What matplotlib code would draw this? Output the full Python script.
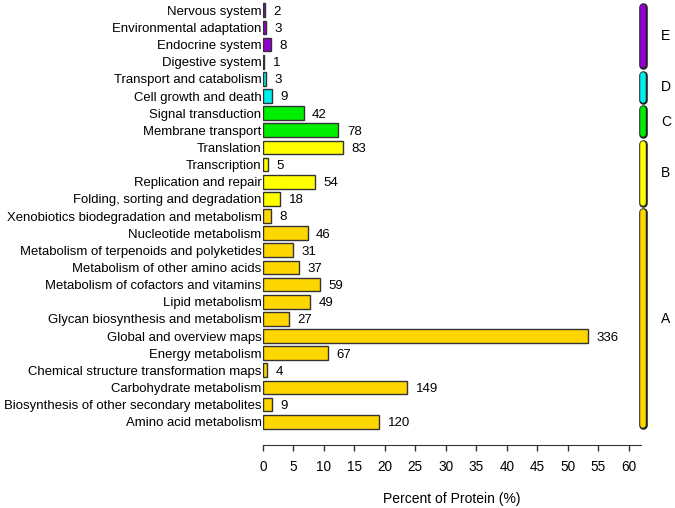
import matplotlib.pyplot as plt

plt.rcParams['font.family'] = ['Liberation Sans', 'DejaVu Sans']

# categories from bottom to top
categories = [
    "Amino acid metabolism",
    "Biosynthesis of other secondary metabolites",
    "Carbohydrate metabolism",
    "Chemical structure transformation maps",
    "Energy metabolism",
    "Global and overview maps",
    "Glycan biosynthesis and metabolism",
    "Lipid metabolism",
    "Metabolism of cofactors and vitamins",
    "Metabolism of other amino acids",
    "Metabolism of terpenoids and polyketides",
    "Nucleotide metabolism",
    "Xenobiotics biodegradation and metabolism",
    "Folding, sorting and degradation",
    "Replication and repair",
    "Transcription",
    "Translation",
    "Membrane transport",
    "Signal transduction",
    "Cell growth and death",
    "Transport and catabolism",
    "Digestive system",
    "Endocrine system",
    "Environmental adaptation",
    "Nervous system",
]
counts = [120, 9, 149, 4, 67, 336, 27, 49, 59, 37, 31, 46, 8,
          18, 54, 5, 83, 78, 42, 9, 3, 1, 8, 3, 2]
groups = ["A"] * 13 + ["B"] * 4 + ["C"] * 2 + ["D"] * 2 + ["E"] * 4
total_proteins = 630

group_colors = {"A": "#FFD700", "B": "#FFFF00", "C": "#00EE00",
                "D": "#00EEEE", "E": "#9400D3"}

percent = [c / total_proteins * 100 for c in counts]
ypos = list(range(len(categories)))
colors = [group_colors[g] for g in groups]

fig = plt.figure(figsize=(6.75, 5.08), dpi=100)
ax = fig.add_axes([263 / 675, 1 - 432 / 508, 378 / 675, 432 / 508])

ax.barh(ypos, percent, height=0.8, color=colors, edgecolor="#333333", linewidth=1)
for y, p, c in zip(ypos, percent, counts):
    ax.text(p + 1.4, y, str(c), va="center_baseline", ha="left", fontsize=9.5)

ax.set_xlim(0, 62)
ax.set_ylim(-0.6, len(categories) - 0.4)
ax.set_yticks(ypos)
ax.set_yticklabels(categories, fontsize=9.45, va="center_baseline")
ax.tick_params(axis="y", length=0, pad=1)
ax.set_xticks(range(0, 61, 5))
ax.tick_params(axis="x", labelsize=9.8, length=4, width=1, color="#333333", pad=7)
for s in ["top", "right", "left"]:
    ax.spines[s].set_visible(False)
ax.spines["bottom"].set_position(("outward", 9))
ax.spines["bottom"].set_color("#333333")
ax.set_xlabel("Percent of Protein (%)", fontsize=10, labelpad=13)

# group brackets on the right
for g in ["A", "B", "C", "D", "E"]:
    idx = [i for i, gg in enumerate(groups) if gg == g]
    lo, hi = min(idx) - 0.22, max(idx) + 0.22
    ax.plot([62.3, 62.3], [lo, hi], color="#222222", lw=6.2,
            solid_capstyle="round", clip_on=False)
    ax.plot([62.3, 62.3], [lo, hi], color=group_colors[g], lw=4.0,
            solid_capstyle="round", clip_on=False)
    ax.text(66.1, (lo + hi) / 2, g, ha="center", va="center", fontsize=10)

fig.savefig("out.png", dpi=100)
